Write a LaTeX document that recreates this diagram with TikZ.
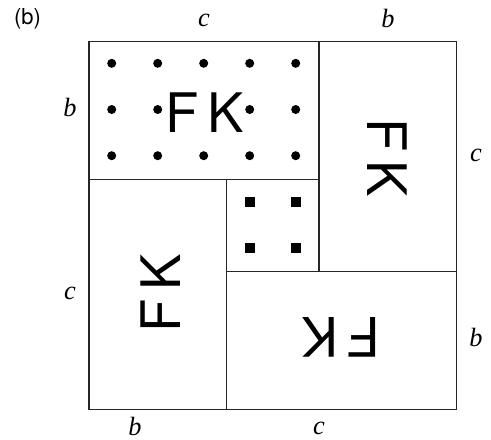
\documentclass[tikz,border=0pt]{standalone}
\usepackage{fontspec}
\setmainfont{Liberation Serif}
\newfontfamily\fkfont{TeX Gyre Heros}
\usetikzlibrary{positioning}

\begin{document}
\begin{tikzpicture}[x=0.02cm, y=-0.02cm,
		box/.style={line width=0.6pt, draw=black!85},
		fk/.style={font=\fkfont\fontsize{31}{31}\selectfont, inner sep=0pt},
		side/.style={font=\itshape\fontsize{15}{15}\selectfont, inner sep=0pt}]
		\useasboundingbox (0,0) rectangle (491,440);
		
		% 1. Corners of the big square (side b + c)
		\coordinate (TL) at (89, 41.7);
		\coordinate (TR) at (456.5, 41.7);
		\coordinate (BR) at (456.5, 409.2);
		\coordinate (BL) at (89, 409.2);
		
		% Inner corners
		\coordinate (Q1) at (319, 41.7);
		\coordinate (Q2) at (89, 179.2);
		\coordinate (Q3) at (319, 179.2);
		\coordinate (Q4) at (226.5, 179.2);
		\coordinate (Q5) at (319, 271.7);
		\coordinate (Q6) at (226.5, 271.7);
		\coordinate (Q7) at (226.5, 409.2);
		\coordinate (Q8) at (456.5, 271.7);
		
		\draw[box] (TL) -- (TR) -- (BR) -- (BL) -- cycle;
		\draw[box] (Q2) -- (Q3);
		\draw[box] (Q1) -- (Q5);
		\draw[box] (Q4) -- (Q7);
		\draw[box] (Q6) -- (Q8);
		
		% 2. Dots in the top rectangle
		\foreach \i in {0,...,4} {
			\foreach \j in {0,1,2} {
				\ifnum\i=2 \ifnum\j=1 \else
					\fill (111.7+46*\i, 63.3+46.2*\j) circle (4.5);
				\fi \else
					\fill (111.7+46*\i, 63.3+46.2*\j) circle (4.5);
				\fi
			}
		}
		
		% Small squares in the middle
		\foreach \i in {0,1} {
			\foreach \j in {0,1} {
				\fill (245+46*\i, 197+45.7*\j) rectangle ++(10, 10);
			}
		}
		
		% 3. The FK letters
		\node[fk] (fk1) at (204.5, 113) {F\hspace{0.17em}K};
		\node[fk, rotate=-90] (fk2) at (387.5, 157.5) {F\hspace{0.17em}K};
		\node[fk, rotate=90] (fk3) at (160.5, 293.5) {F\hspace{0.17em}K};
		\node[fk, rotate=180] (fk4) at (341.5, 337) {F\hspace{0.17em}K};
		
		% 4. Side lengths
		\node[font=\fkfont\fontsize{12.5}{12.5}\selectfont] (lab) at (27.5, 19) {(b)};
		\node[side] (ctop) at (204, 20) {c};
		\node[side] (btop) at (388, 18) {b};
		\node[side] (bleft) at (70, 107) {b};
		\node[side] (cleft) at (70, 293) {c};
		\node[side] (cright) at (476, 155) {c};
		\node[side] (bright) at (476, 337) {b};
		\node[side] (bbot) at (135, 426) {b};
		\node[side] (cbot) at (319, 428) {c};
		
	\end{tikzpicture}
\end{document}
